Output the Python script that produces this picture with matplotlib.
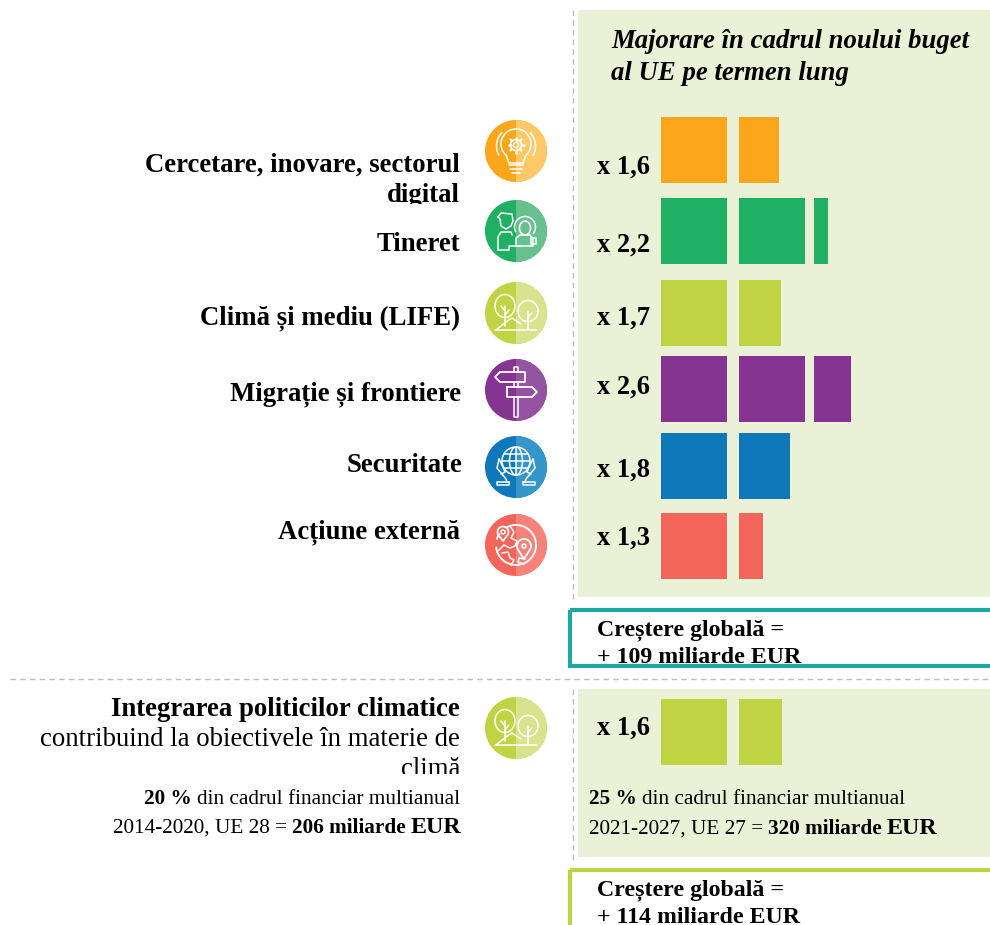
import numpy as np
import matplotlib
matplotlib.use("Agg")
import matplotlib.pyplot as plt
from matplotlib.patches import Circle, Ellipse, Rectangle, Wedge, Arc

plt.rcParams['font.family'] = ['Liberation Serif', 'DejaVu Serif']

# Chart content
categories = [["Cercetare, inovare, sectorul", "digital"], ["Tineret"], ["Climă și mediu (LIFE)"],
              ["Migrație și frontiere"], ["Securitate"], ["Acțiune externă"]]
multipliers = ["x 1,6", "x 2,2", "x 1,7", "x 2,6", "x 1,8", "x 1,3"]
# each bar is a row of squares, one square = the old budget
squares = [[1, 0.6], [1, 1, 0.21], [1, 0.64], [1, 1, 0.56], [1, 0.78], [1, 0.37]]
climate_squares = [1, 0.65]
colors = ["#FCA61C", "#1FB063", "#C0D443", "#853591", "#0F78BA", "#F3645A"]
light_colors = ["#FEC966", "#68C08F", "#D8E38D", "#9353A0", "#3596CB", "#F6837A"]
icon_names = ["bulb", "people", "trees", "sign", "globe", "earth"]

# Layout, in pixels
W, H = 990, 925
DPI = 100
row_tops = [117, 198, 280, 356, 433, 513]
label_base = [174, 252, 325, 394, 477, 545]
cat_base = [172, 251, 324, 400, 472, 538]
cat_right = [460, 460, 460, 461, 463, 460]
icon_y = [151, 231, 313, 390, 467, 545]
icon_x = 516
slot_x = [661, 739, 814]
unit = 66
PX = 72 / DPI  # font size for a height in pixels
BIG = 26.7
SMALL = 21.3

fig = plt.figure(figsize=(W / DPI, H / DPI), dpi=DPI)
ax = fig.add_axes([0, 0, 1, 1])
ax.set_xlim(0, W)
ax.set_ylim(H, 0)
ax.axis('off')


def put_runs(runs, y, left=None, right=None, clip=None):
    # runs = (text, weight, px size), placed one after the other on a baseline
    r = fig.canvas.get_renderer()
    items = []
    for s, weight, size in runs:
        t = ax.text(0, y, s, fontweight=weight, fontsize=size * PX, va='baseline', ha='left', color='black')
        items.append((t, t.get_window_extent(r).width))
    gap = 5
    total = sum(w for _, w in items) + gap * (len(items) - 1)
    x = left if left is not None else right - total
    for t, w in items:
        t.set_x(x)
        x += w + gap
        if clip is not None:
            t.set_clip_path(Rectangle((0, 0), W, clip, transform=ax.transData))
            t.set_clip_on(True)


def pl(cx, cy, pts, lw=1.1):
    pts = np.array(pts, dtype=float)
    ax.plot(cx + pts[:, 0], cy + pts[:, 1], color='white', lw=lw, solid_capstyle='round', zorder=5)


def el(cx, cy, x, y, w, h, lw=1.1):
    ax.add_patch(Ellipse((cx + x, cy + y), w, h, fill=False, ec='white', lw=lw, zorder=5))


def arc(cx, cy, x, y, d, a, b, lw=1.1):
    ax.add_patch(Arc((cx + x, cy + y), d, d, theta1=a, theta2=b, ec='white', lw=lw, zorder=5))


def draw_icon(name, cx, cy):
    if name == "bulb":
        # angles run clockwise on screen, the y axis is inverted
        arc(cx, cy, 0, -7, 30, 130, 410)
        pl(cx, cy, [(-10, 4), (-7, 12), (7, 12), (10, 4)])
        for y, hw in [(14, 7), (18, 6), (22, 4)]:
            pl(cx, cy, [(-hw, y), (hw, y)])
        el(cx, cy, 0, -6, 5, 5)
        el(cx, cy, 0, -6, 11, 11)
        for a in np.arange(0, 360, 45):
            ca, sa = np.cos(np.radians(a)), np.sin(np.radians(a))
            pl(cx, cy, [(5.5 * ca, -6 + 5.5 * sa), (7.5 * ca, -6 + 7.5 * sa)], 1.8)
        arc(cx, cy, 0, -5, 39, 150, 225)
        arc(cx, cy, 0, -5, 39, -45, 30)
    elif name == "people":
        # man
        pl(cx, cy, [(-18, -14), (-15, -18), (-4, -17), (-3, -10), (-5, -5), (-10, -2), (-15, -5), (-16, -12),
                    (-18, -14)])
        pl(cx, cy, [(-18, 19), (-18, 6), (-15, 1), (-5, 1), (-4, 4)])
        pl(cx, cy, [(-18, 19), (-7, 19), (-7, 15), (4, 15)])
        # woman
        el(cx, cy, 9, -3, 11, 14)
        arc(cx, cy, 9, -4, 21, 150, 400)
        pl(cx, cy, [(0, 15), (0, 7), (4, 4), (14, 4), (17, 8), (17, 15), (0, 15)])
        pl(cx, cy, [(15, 7), (20, 7), (20, 13), (15, 13), (15, 7)])
    elif name == "trees":
        el(cx, cy, -11, -7, 20, 23)
        el(cx, cy, 12, -2, 20, 21)
        pl(cx, cy, [(-11, -7), (-11, 13)])
        pl(cx, cy, [(-11, -2), (-15, -7)])
        pl(cx, cy, [(-11, 2), (-7, -3)])
        pl(cx, cy, [(12, -2), (12, 17)])
        pl(cx, cy, [(12, 4), (16, 0)])
        pl(cx, cy, [(-20, 17), (-10, 9), (-4, 5), (5, 11)])
        pl(cx, cy, [(-21, 17), (21, 17)])
    elif name == "sign":
        pl(cx, cy, [(-2, -18), (-2, -23), (2, -23), (2, -18)])
        pl(cx, cy, [(-2, -8), (-2, -3)])
        pl(cx, cy, [(2, -8), (2, -3)])
        pl(cx, cy, [(-2, 7), (-2, 27), (2, 27), (2, 7)])
        pl(cx, cy, [(-16, -18), (9, -18), (9, -8), (-16, -8), (-21, -13), (-16, -18)], 1.3)
        pl(cx, cy, [(-9, -3), (16, -3), (21, 2), (16, 7), (-9, 7), (-9, -3)], 1.3)
    elif name == "globe":
        gy = -6
        el(cx, cy, 0, gy, 28, 28)
        el(cx, cy, 0, gy, 13, 28)
        pl(cx, cy, [(0, gy - 14), (0, gy + 14)])
        for y in [-7, 0, 7]:
            hw = np.sqrt(14 ** 2 - y ** 2)
            pl(cx, cy, [(-hw, gy + y), (hw, gy + y)])
        for s in [-1, 1]:
            pl(cx, cy, [(s * 17, -8), (s * 19, 1), (s * 10, 12), (s * 9, 15)])
            pl(cx, cy, [(s * 17, -8), (s * 13, 0), (s * 11, 5), (s * 15, 7)])
            pl(cx, cy, [(s * 7, 15), (s * 19, 15), (s * 19, 18), (s * 7, 18), (s * 7, 15)])
    elif name == "earth":
        arc(cx, cy, 0, 0, 40, -120, 175, 1.4)
        arc(cx, cy, 0, 0, 40, 195, 215, 1.4)
        pl(cx, cy, [(-6, -19), (-2, -13), (-5, -7), (1, -4), (-1, 1), (-6, 3), (-12, 0), (-18, 6)])
        pl(cx, cy, [(-14, 8), (-8, 7), (-6, 13), (-2, 15), (-5, 20)])
        pl(cx, cy, [(9, 14), (3, 13), (2, 17), (8, 19)])
        for px, py, r, tip in [(-13, -13, 5.5, 9), (8, 1, 7, 13)]:
            arc(cx, cy, px, py, 2 * r, 150, 390, 1.3)
            el(cx, cy, px, py, 4, 4)
            pl(cx, cy, [(px - r * 0.87, py + r * 0.5), (px, py + tip), (px + r * 0.87, py + r * 0.5)], 1.3)


def draw_badge(name, color, light, cy):
    ax.add_patch(Circle((icon_x, cy), 31, fc=color, ec='none', zorder=3))
    ax.add_patch(Wedge((icon_x, cy), 31, -90, 90, fc=light, ec='none', zorder=4))
    draw_icon(name, icon_x, cy)


def draw_squares(fracs, top, color):
    ax.bar(slot_x[:len(fracs)], unit, width=np.array(fracs) * unit, bottom=top, align='edge', color=color, zorder=3)


# Background panels, dashed rules
ax.add_patch(Rectangle((577.5, 10), W - 577.5, 587, fc="#EBF1D6", ec='none', zorder=1))
ax.add_patch(Rectangle((577.5, 689), W - 577.5, 168, fc="#EBF1D6", ec='none', zorder=1))
dash = dict(color="#BDBDBD", lw=1, ls=(0, (4, 3)), zorder=2)
ax.plot([573, 573], [10, 602], **dash)
ax.plot([573, 573], [689, 860], **dash)
ax.plot([10, W], [679, 679], **dash)

# Title
ax.text(611, 48, "Majorare în cadrul noului buget", fontsize=BIG * PX, fontweight='bold', fontstyle='italic')
ax.text(611, 80, "al UE pe termen lung", fontsize=BIG * PX, fontweight='bold', fontstyle='italic')

# Rows
for i in range(len(categories)):
    if len(categories[i]) == 2:
        put_runs([(categories[i][0], 'bold', BIG)], cat_base[i], right=cat_right[i])
        put_runs([(categories[i][1], 'bold', BIG)], 202, right=cat_right[i], clip=204)
    else:
        put_runs([(categories[i][0], 'bold', BIG)], cat_base[i], right=cat_right[i])
    draw_badge(icon_names[i], colors[i], light_colors[i], icon_y[i])
    ax.text(597, label_base[i], multipliers[i], fontsize=26.5 * PX, fontweight='bold', zorder=5)
    draw_squares(squares[i], row_tops[i], colors[i])

# Total boxes
for top, bottom, col, lines in [(610, 666, "#1FA9A0", ["Creștere globală =", "+ 109 miliarde EUR"]),
                                (870, 940, "#C0D443", ["Creștere globală =", "+ 114 miliarde EUR"])]:
    base = top + 25
    ax.text(597, base, lines[0], fontsize=23.9 * PX, fontweight='bold', zorder=3)
    ax.text(597, base + 28, lines[1], fontsize=23.9 * PX, fontweight='bold', zorder=3)
    ax.add_patch(Rectangle((570, top), W + 20 - 570, bottom - top, fill=False, ec=col, lw=3, zorder=4,
                           joinstyle='miter'))

# Climate block
put_runs([("Integrarea politicilor climatice", 'bold', BIG)], 716, right=460)
put_runs([("contribuind la obiectivele în materie de", 'normal', BIG)], 746, right=460)
put_runs([("climă", 'normal', BIG)], 776, right=460, clip=774)
put_runs([("20 %", 'bold', SMALL), ("din cadrul financiar multianual", 'normal', SMALL)], 804, right=460)
put_runs([("2014-2020, UE 28 =", 'normal', SMALL), ("206 miliarde", 'bold', SMALL), ("EUR", 'bold', 24)], 833, right=461)
draw_badge("trees", colors[2], light_colors[2], 728)
ax.text(597, 735, "x 1,6", fontsize=26.5 * PX, fontweight='bold', zorder=5)
draw_squares(climate_squares, 699, colors[2])
put_runs([("25 %", 'bold', SMALL), ("din cadrul financiar multianual", 'normal', SMALL)], 804, left=589)
put_runs([("2021-2027, UE 27 =", 'normal', SMALL), ("320 miliarde", 'bold', SMALL), ("EUR", 'bold', 24)], 834, left=589)

ax.set_xlim(0, W)
ax.set_ylim(H, 0)
fig.savefig("out.png", dpi=DPI)
